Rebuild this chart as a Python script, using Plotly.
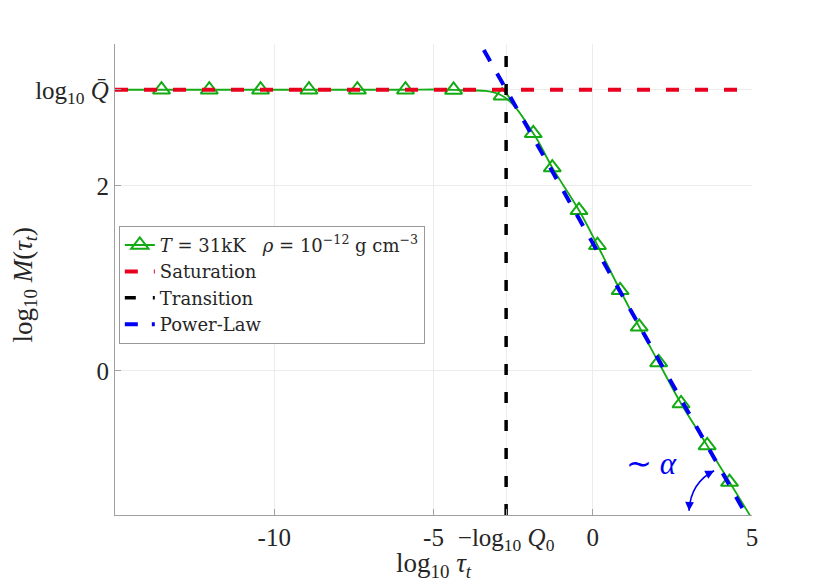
import plotly.graph_objects as go

# values
log_Qbar = 3.04          # saturation level
log_Q0 = 2.72            # transition at -log10 Q0

marker_x = [-13.54, -12.04, -10.43, -8.91, -7.39, -5.88, -4.37, -2.845,
            -1.868, -1.270, -0.432, 0.148, 0.860, 1.459, 2.070, 2.772, 3.592, 4.294]
marker_y = [3.04, 3.04, 3.04, 3.04, 3.04, 3.04, 3.038, 2.976,
            2.569, 2.198, 1.736, 1.358, 0.871, 0.476, 0.090, -0.354, -0.808, -1.204]

# ends of the green curve at the axis limits
curve_x = [-15.0] + marker_x + [5.0]
curve_y = [3.04] + marker_y + [-1.60]

sat_x = [-15.0, 5.0]
sat_y = [log_Qbar, log_Qbar]

trans_x = [-log_Q0, -log_Q0]
trans_y = [-1.56, 3.535]

pl_x = [-3.42, 5.0]
pl_y = [3.47, -1.67]

x_ticks = [-10, -5, -log_Q0, 0, 5]
x_ticklabels = ["-10", "-5", "\u2212log<sub>10</sub> <i>Q</i><sub>0</sub>", "0", "5"]
y_ticks = [0, 2, log_Qbar]
y_ticklabels = ["0", "2", "log<sub>10</sub> <i>Q\u0304</i>"]

green = "rgb(20,170,20)"
red = "rgb(232,0,30)"
blue = "rgb(0,0,245)"
font = "Liberation Serif"

fig = go.Figure()

fig.add_trace(go.Scatter(x=curve_x, y=curve_y, mode="lines", line=dict(color=green, width=1.8, shape="spline"),
                         showlegend=False, hoverinfo="skip"))
fig.add_trace(go.Scatter(x=marker_x, y=marker_y, mode="markers", showlegend=False,
                         marker=dict(symbol="triangle-up-open", size=15, color=green, line=dict(width=2, color=green))))
# legend entry for curve + markers
fig.add_trace(go.Scatter(x=[None], y=[None], mode="lines+markers",
                         name="<i>T</i> = 31kK\u00a0\u00a0\u00a0<i>\u03c1</i> = 10<sup>\u221212</sup> g cm<sup>\u22123</sup>",
                         line=dict(color=green, width=1.8),
                         marker=dict(symbol="triangle-up-open", size=15, color=green, line=dict(width=2, color=green))))
fig.add_trace(go.Scatter(x=sat_x, y=sat_y, mode="lines", name="Saturation",
                         line=dict(color=red, width=4, dash="13px,16px")))
fig.add_trace(go.Scatter(x=trans_x, y=trans_y, mode="lines", name="Transition",
                         line=dict(color="black", width=3.5, dash="11px,17px")))
fig.add_trace(go.Scatter(x=pl_x, y=pl_y, mode="lines", name="Power-Law",
                         line=dict(color=blue, width=4, dash="13px,14px")))

# curved double arrow marking the slope
fig.add_shape(type="path", xref="x", yref="y",
              path="M 3.81,-1.081 Q 3.07,-1.21 3.025,-1.514",
              line=dict(color=blue, width=1.6))
fig.add_annotation(x=3.81, y=-1.081, ax=-7, ay=3.6, text="", showarrow=True,
                   arrowhead=2, arrowsize=1.1, arrowwidth=1.6, arrowcolor=blue)
fig.add_annotation(x=3.025, y=-1.514, ax=0.4, ay=-8, text="", showarrow=True,
                   arrowhead=2, arrowsize=1.1, arrowwidth=1.6, arrowcolor=blue)
fig.add_annotation(x=1.83, y=-1.0, text="\u223c <i>\u03b1</i>", showarrow=False,
                   font=dict(family=font, size=31, color=blue))

# axis titles placed as annotations for exact positioning
fig.add_annotation(xref="paper", yref="paper", x=0.5, y=0, yanchor="middle", xanchor="center",
                   yshift=-50, showarrow=False,
                   text="log<sub>10</sub> <i>\u03c4<sub>t</sub></i>",
                   font=dict(family=font, size=27, color="#262626"))
fig.add_annotation(xref="paper", yref="paper", x=0, y=0.5, xanchor="center", yanchor="middle",
                   xshift=-91, yshift=-5, showarrow=False,
                   textangle=-90, text="log<sub>10</sub> <i>M</i>(<i>\u03c4<sub>t</sub></i>)",
                   font=dict(family=font, size=27, color="#262626"))

# the page body adds an 8px offset, so margins are shifted to compensate
fig.update_layout(
    width=830, height=585,
    margin=dict(l=107, r=86, t=36, b=78),
    paper_bgcolor="white", plot_bgcolor="white",
    font=dict(family=font, size=25, color="#262626"),
    legend=dict(x=0.006, y=0.614, xanchor="left", yanchor="top",
                bgcolor="white", bordercolor="#999999", borderwidth=1,
                font=dict(family="DejaVu Serif", size=18, color="#262626"),
                tracegroupgap=0),
    xaxis=dict(range=[-15, 5], tickvals=x_ticks, ticktext=x_ticklabels, automargin=False,
               showgrid=True, gridcolor="#ececec", zeroline=False,
               showline=True, linecolor="#a0a0a0", linewidth=1.2,
               ticks="inside", ticklen=6, tickcolor="#a0a0a0"),
    yaxis=dict(range=[-1.56, 3.535], tickvals=y_ticks, ticktext=y_ticklabels, automargin=False,
               showgrid=True, gridcolor="#ececec", zeroline=False,
               showline=True, linecolor="#a0a0a0", linewidth=1.2,
               ticks="inside", ticklen=6, tickcolor="#a0a0a0"),
)

fig.write_html("out.html")
